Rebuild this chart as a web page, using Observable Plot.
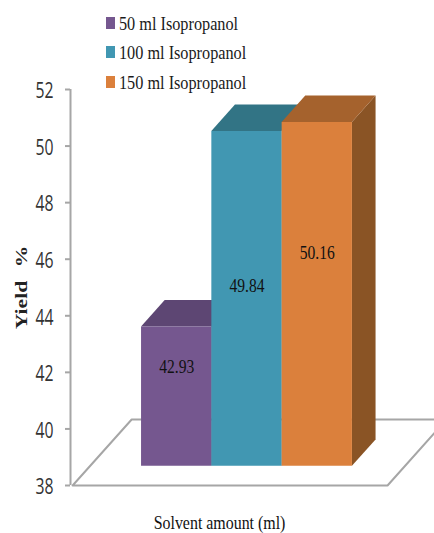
<!DOCTYPE html>
<html>
<head>
<meta charset="utf-8">
<script src="https://cdn.jsdelivr.net/npm/d3@7"></script>
<script src="https://cdn.jsdelivr.net/npm/@observablehq/plot@0.6"></script>
<style>
  html, body { margin: 0; padding: 0; background: #fff; }
  #chart { position: relative; width: 434px; height: 533px; overflow: hidden; }
  #legend { position: absolute; left: 106px; top: 9px; font: 19px "Liberation Serif", serif; color: #1a1a1a; }
  #legend div { position: relative; height: 29.3px; line-height: 29px; white-space: nowrap; }
  #legend i { position: absolute; left: 0; top: 8px; width: 8.5px; height: 12px; }
  #legend span { display: inline-block; margin-left: 13px; transform: scaleX(0.855); transform-origin: left center; }
</style>
</head>
<body>
<div id="chart"></div>
<script>
// Yield of the reaction for each solvent amount
const solvents = ["50 ml Isopropanol", "100 ml Isopropanol", "150 ml Isopropanol"];
const yields = [42.93, 49.84, 50.16];
const yTicks = [38, 40, 42, 44, 46, 48, 50, 52];

// Face shades: front, top, side
const frontColors = ["#75578f", "#4197b2", "#db803c"];
const topColors = ["#5d4673", "#327485", "#a5622d"];
const sideColors = ["#5a4270", "#2f6f82", "#8a5425"];

// Height of each value label, as a share of its bar measured from the top
const labelDrop = [0.286, 0.46, 0.38];

// Oblique projection of the floor: how far full depth moves a point, in data units
const depthX = 0.84;
const depthY = 2.333;
const barFront = 0.29;
const barBack = 0.69;
const firstBar = 0.767;
const baseline = 38;

const px = (u, d) => u + d * depthX;
const py = (v, d) => v + d * depthY;

const floor = [
  [0.03, 0], [4.51, 0], [4.51, 1], [0.87 - depthX, 1], [0.03, 0]
].map(([u, d]) => ({x: px(u, d), y: py(baseline, d)}));

const barMarks = yields.flatMap((v, i) => {
  const u0 = firstBar + i;
  const u1 = u0 + 1;
  const front = [
    {x: px(u0, barFront), y1: py(baseline, barFront), y2: py(v, barFront)},
    {x: px(u1, barFront), y1: py(baseline, barFront), y2: py(v, barFront)}
  ];
  const side = [
    {x: px(u1, barFront), y1: py(baseline, barFront), y2: py(v, barFront)},
    {x: px(u1, barBack), y1: py(baseline, barBack), y2: py(v, barBack)}
  ];
  const top = [
    {y: py(v, barFront), x1: px(u0, barFront), x2: px(u1, barFront)},
    {y: py(v, barBack), x1: px(u0, barBack), x2: px(u1, barBack)}
  ];
  return [
    Plot.areaY(side, {x: "x", y1: "y1", y2: "y2", fill: sideColors[i]}),
    Plot.areaX(top, {y: "y", x1: "x1", x2: "x2", fill: topColors[i]}),
    Plot.areaY(front, {x: "x", y1: "y1", y2: "y2", fill: frontColors[i]})
  ];
});

const valueLabels = yields.map((v, i) => ({
  x: px(firstBar + i + 0.5, barFront),
  y: py(v - (v - baseline) * labelDrop[i], barFront),
  text: v.toFixed(2)
}));

const plot = Plot.plot({
  width: 434,
  height: 533,
  marginTop: 89,
  marginBottom: 48,
  marginLeft: 70,
  marginRight: 0,
  x: {domain: [0, 5.178], axis: null},
  y: {domain: [38, 52], axis: null},
  style: {background: "#fff", overflow: "hidden"},
  marks: [
    Plot.line(floor, {x: "x", y: "y", stroke: "#a6a6a6", strokeWidth: 2, strokeLinejoin: "miter"}),
    Plot.ruleX([0], {y1: 38, y2: 52, stroke: "#a6a6a6", strokeWidth: 2}),
    Plot.axisY(yTicks, {anchor: "left", tickSize: 5, text: null, stroke: "#a6a6a6", strokeWidth: 2}),
    Plot.axisY(yTicks, {
      anchor: "left", tickSize: 0, tickPadding: 17, label: null, dy: 2,
      className: "narrow-ticks",
      fontFamily: "'Open Sans', sans-serif", fontSize: 21, fill: "#333"
    }),
    ...barMarks,
    Plot.text(valueLabels, {
      x: "x", y: "y", text: "text",
      className: "narrow-values",
      fontFamily: "'Liberation Serif', serif", fontSize: 19, fill: "#111"
    }),
    Plot.text(["Yield %"], {
      x: 0, y: 45, dx: -49, rotate: -90,
      className: "wide-title",
      fontFamily: "'Liberation Serif', serif", fontWeight: "bold", fontSize: 16, fill: "#222"
    }),
    Plot.text(["Solvent amount (ml)"], {
      x: 2.12, y: 38, dy: 38,
      className: "narrow-title",
      fontFamily: "'Liberation Serif', serif", fontSize: 18, fill: "#111"
    })
  ]
});

// The chart's lettering is set in condensed or stretched widths
const stretch = {"narrow-ticks": 0.75, "narrow-values": 0.82, "wide-title": 1.35, "narrow-title": 0.885};
for (const [name, k] of Object.entries(stretch)) {
  plot.querySelectorAll(`.${name} text, text.${name}`).forEach((t) => {
    t.setAttribute("transform", `${t.getAttribute("transform") || ""} scale(${k},1)`);
  });
}
plot.querySelectorAll(".wide-title text").forEach((t) => t.setAttribute("word-spacing", "6"));

const chart = document.getElementById("chart");
chart.append(plot);

// Legend sits over the upper part of the plot
const legend = document.createElement("div");
legend.id = "legend";
solvents.forEach((name, i) => {
  const row = document.createElement("div");
  const swatch = document.createElement("i");
  swatch.style.background = frontColors[i];
  const label = document.createElement("span");
  label.textContent = name;
  row.append(swatch, label);
  legend.append(row);
});
chart.append(legend);
</script>
</body>
</html>
